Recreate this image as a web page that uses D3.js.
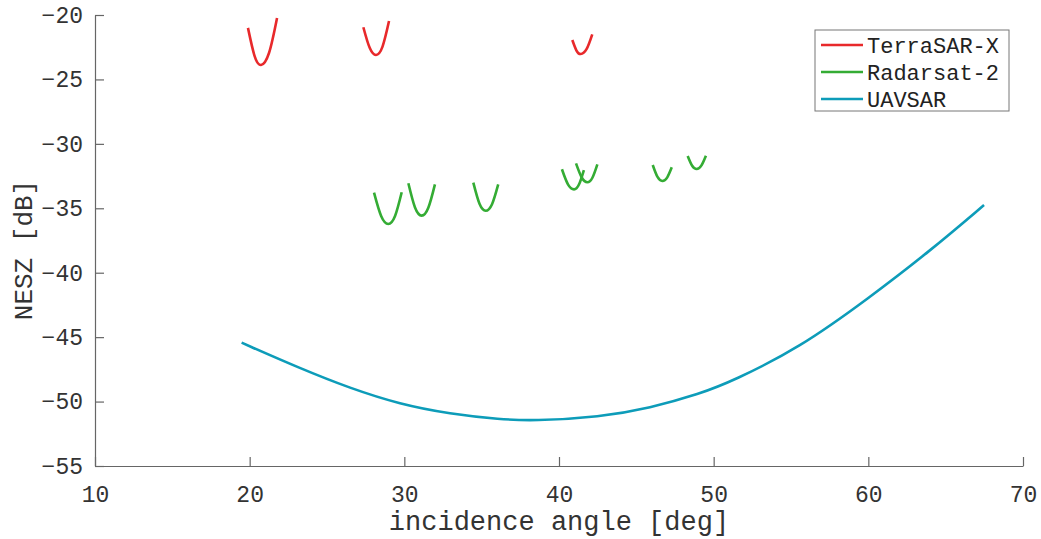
<!DOCTYPE html>
<html>
<head>
<meta charset="utf-8">
<script src="https://cdn.jsdelivr.net/npm/d3@7"></script>
<style>
  body { margin: 0; background: #fff; }
  svg { font-family: "Courier New", "Liberation Mono", monospace; }
</style>
</head>
<body>
<div id="chart"></div>
<script>
const WIDTH = 1041;
const HEIGHT = 539;
const MARGIN = { left: 95, right: 18, top: 15, bottom: 73 };

const xTicks = [10, 20, 30, 40, 50, 60, 70];
const yTicks = [-20, -25, -30, -35, -40, -45, -50, -55];

// [incidence angle, NESZ], one array per swath
const terrasar = [
  [[19.89, -21.0], [20.31, -23.15], [20.73, -23.88], [21.25, -22.95], [21.77, -20.23]],
  [[27.35, -20.95], [27.76, -22.55], [28.17, -23.1], [28.59, -22.45], [29.01, -20.47]],
  [[40.86, -21.94], [41.13, -22.76], [41.40, -23.03], [41.78, -22.65], [42.15, -21.5]]
];
const radarsat = [
  [[28.04, -33.79], [28.5, -35.6], [28.96, -36.22], [29.4, -35.6], [29.83, -33.76]],
  [[30.26, -33.06], [30.69, -34.94], [31.12, -35.57], [31.55, -34.96], [31.98, -33.14]],
  [[34.46, -33.01], [34.86, -34.65], [35.26, -35.19], [35.67, -34.68], [36.07, -33.14]],
  [[40.19, -31.97], [40.58, -33.14], [40.97, -33.53], [41.29, -33.16], [41.61, -32.03]],
  [[41.10, -31.51], [41.47, -32.61], [41.83, -32.98], [42.16, -32.63], [42.48, -31.59]],
  [[46.06, -31.64], [46.37, -32.57], [46.68, -32.88], [46.99, -32.62], [47.29, -31.82]],
  [[48.32, -30.94], [48.61, -31.70], [48.90, -31.95], [49.2, -31.69], [49.50, -30.92]]
];
const uavsar = [
  [19.48, -45.43], [23.25, -47.42], [26.5, -48.97], [29.72, -50.21], [32.95, -50.96],
  [36.2, -51.38], [38.32, -51.5], [42.65, -51.2], [45.88, -50.5], [49.11, -49.4],
  [51.25, -48.4], [55.58, -45.8], [60.0, -42.0], [64.0, -38.3], [67.48, -34.75]
];

const legendNames = ["TerraSAR-X", "Radarsat-2", "UAVSAR"];
const colors = ["#e8292b", "#34ac34", "#0d9cb9"];

const svg = d3.select("#chart").append("svg")
  .attr("width", WIDTH).attr("height", HEIGHT);

const xScale = d3.scaleLinear().domain([10, 70]).range([MARGIN.left, WIDTH - MARGIN.right]);
const yScale = d3.scaleLinear().domain([-55, -20]).range([HEIGHT - MARGIN.bottom, MARGIN.top]);

// Axes, ticks pointing inward like matlab
const xAxis = d3.axisBottom(xScale).tickValues(xTicks).tickSize(-9).tickPadding(20).tickSizeOuter(0);
const yAxis = d3.axisLeft(yScale).tickValues(yTicks).tickSize(-9).tickPadding(12).tickSizeOuter(0);

const gx = svg.append("g")
  .attr("transform", `translate(0, ${HEIGHT - MARGIN.bottom})`)
  .call(xAxis);
const gy = svg.append("g")
  .attr("transform", `translate(${MARGIN.left}, 0)`)
  .call(yAxis);

[gx, gy].forEach(g => {
  g.select(".domain").attr("stroke", "#666").attr("stroke-width", 1.2);
  g.selectAll(".tick line").attr("stroke", "#666").attr("stroke-width", 1.2);
  g.selectAll(".tick text")
    .attr("fill", "#333")
    .style("font-size", "23px")
    .style("font-family", "\"Courier New\", \"Liberation Mono\", monospace");
});
gy.selectAll(".tick text").text(d => "\u2212" + Math.abs(d));

// Axis labels
svg.append("text")
  .attr("x", (MARGIN.left + WIDTH - MARGIN.right) / 2)
  .attr("y", 530)
  .attr("text-anchor", "middle")
  .attr("fill", "#333")
  .style("font-size", "27px")
  .text("incidence angle [deg]");

svg.append("text")
  .attr("transform", "translate(32, 250) rotate(-90)")
  .attr("text-anchor", "middle")
  .attr("fill", "#333")
  .style("font-size", "26px")
  .text("NESZ [dB]");

// Curves
const line = d3.line()
  .x(d => xScale(d[0]))
  .y(d => yScale(d[1]))
  .curve(d3.curveNatural);

// the long UAVSAR curve gets smoothed a bit more
const smoothLine = d3.line()
  .x(d => xScale(d[0]))
  .y(d => yScale(d[1]))
  .curve(d3.curveBasis);

const chart = svg.append("g");

function drawSeries(segments, color, gen) {
  chart.append("g").selectAll("path")
    .data(segments)
    .join("path")
    .attr("fill", "none")
    .attr("stroke", color)
    .attr("stroke-width", 2.6)
    .attr("stroke-linecap", "butt")
    .attr("d", gen);
}
drawSeries(terrasar, colors[0], line);
drawSeries(radarsat, colors[1], line);
drawSeries([uavsar], colors[2], smoothLine);

// Legend
const legend = svg.append("g").attr("transform", "translate(815, 30)");
legend.append("rect")
  .attr("width", 194).attr("height", 81)
  .attr("fill", "#fff")
  .attr("stroke", "#777")
  .attr("stroke-width", 1);

legendNames.forEach((name, i) => {
  let yRow = 15 + i * 27;
  legend.append("line")
    .attr("x1", 6).attr("x2", 48)
    .attr("y1", yRow).attr("y2", yRow)
    .attr("stroke", colors[i])
    .attr("stroke-width", 2.6);
  legend.append("text")
    .attr("x", 52)
    .attr("y", yRow)
    .attr("dy", "0.35em")
    .attr("fill", "#222")
    .style("font-size", "22px")
    .text(name);
});
</script>
</body>
</html>
